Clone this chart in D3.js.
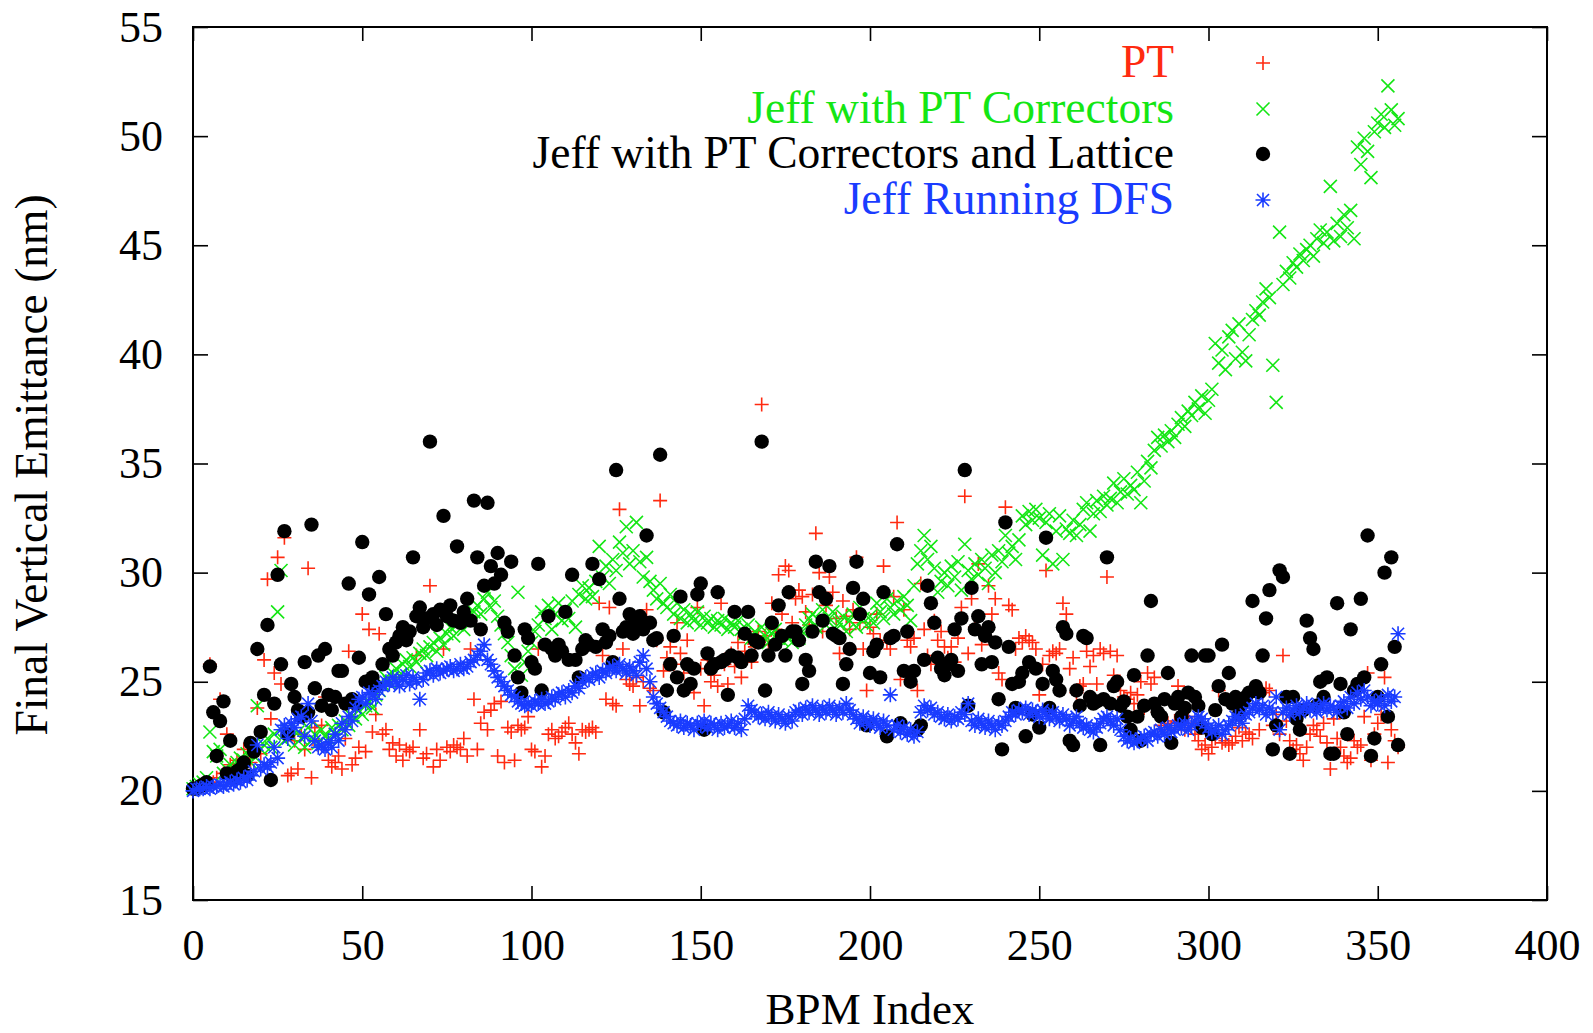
<!DOCTYPE html>
<html>
<head>
<meta charset="utf-8">
<script src="https://cdn.jsdelivr.net/npm/d3@7"></script>
<style>
  body { margin: 0; background: #fff; }
  text { font-family: "Liberation Serif", "Times New Roman", serif; }
</style>
</head>
<body>
<div id="chart"></div>
<script>
// Data, one value per BPM index (0..356)
// =================================
var ptValues = [
  20.1, 20.1, 20.2, 20.2, 20.3, 25.8, 20.4, 20.6, 24.2, 20.8,
  22.6, 21.2, 21.0, 21.4, 20.9, 21.9, 21.5, 21.3, 22.0, 23.8,
  21.7, 26.0, 29.7, 23.3, 25.4, 30.7, 24.9, 31.6, 20.7, 20.8,
  22.3, 21.0, 22.6, 21.9, 30.2, 20.6, 22.9, 22.1, 23.0, 24.3,
  21.4, 21.1, 21.3, 21.6, 21.0, 22.4, 26.4, 21.2, 21.5, 22.0,
  28.1, 21.8, 27.4, 22.7, 23.5, 27.2, 22.6, 22.8, 21.9, 22.2,
  21.6, 22.1, 21.4, 21.9, 21.8, 22.0, 26.2, 22.8, 21.5, 21.7,
  29.4, 21.1, 21.9, 21.4, 26.5, 22.0, 21.8, 22.1, 22.0, 21.9,
  22.4, 21.6, 26.5, 24.2, 21.9, 23.1, 23.6, 22.8, 23.7, 24.0,
  21.6, 24.1, 21.3, 22.9, 22.7, 21.4, 23.0, 22.8, 22.9, 23.4,
  21.9, 21.8, 26.5, 21.1, 21.6, 22.6, 22.8, 22.4, 22.5, 22.7,
  22.9, 23.1, 22.6, 22.2, 21.7, 22.8, 22.7, 22.8, 22.9, 22.7,
  28.6, 26.2, 24.2, 28.4, 24.0, 23.9, 32.9, 26.5, 25.1, 24.9,
  24.8, 25.2, 23.9, 25.0, 28.3, 24.7, 24.6, 26.9, 33.3, 25.5,
  26.1, 26.6, 25.8, 27.7, 26.3, 25.4, 26.9, 25.7, 24.5, 28.4,
  25.6, 23.9, 26.0, 25.0, 25.3, 24.8, 28.6, 25.8, 24.9, 26.3,
  25.7, 26.8, 25.2, 26.4, 27.0, 25.9, 26.6, 27.3, 37.7, 27.1,
  26.7, 28.6, 27.4, 29.9, 28.1, 30.3, 30.1, 27.7, 28.8, 29.2,
  28.9, 28.2, 27.6, 29.0, 31.8, 30.0, 27.3, 28.5, 29.8, 29.1,
  27.9, 26.3, 28.7, 28.0, 27.4, 28.3, 30.7, 27.7, 26.5, 24.6,
  27.5, 27.2, 28.1, 26.9, 30.3, 26.8, 26.5, 28.9, 32.3, 25.1,
  28.3, 26.9, 26.6, 27.0, 24.6, 29.5, 27.4, 26.2, 25.8, 27.8,
  26.9, 27.3, 26.6, 26.1, 26.6, 25.9, 27.0, 28.4, 33.5, 26.3,
  28.8, 27.5, 30.4, 26.7, 27.1, 29.4, 28.1, 28.8, 25.4, 25.1,
  33.0, 28.5, 28.3, 26.5, 27.0, 26.8, 27.1, 26.9, 26.8, 26.5,
  24.4, 25.8, 30.1, 26.2, 26.4, 26.3, 26.5, 28.6, 28.1, 25.6,
  26.1, 24.5, 24.8, 24.9, 26.4, 25.7, 26.2, 24.9, 26.5, 26.3,
  29.8, 26.4, 25.3, 26.2, 24.6, 24.3, 24.2, 24.5, 24.0, 24.4,
  25.0, 23.8, 25.4, 24.9, 25.2, 23.6, 23.0, 22.8, 23.1, 22.9,
  23.2, 24.8, 23.0, 22.8, 23.4, 23.1, 22.6, 22.3, 21.9, 22.1,
  21.7, 22.0, 22.4, 24.6, 22.2, 22.3, 22.1, 22.2, 22.5, 22.9,
  22.3, 22.7, 22.6, 22.4, 24.6, 22.8, 24.5, 24.7, 24.6, 23.0,
  23.5, 22.6, 26.2, 23.2, 22.3, 21.9, 22.1, 21.7, 21.4, 22.0,
  22.6, 23.0, 22.8, 22.5, 23.1, 22.2, 21.0, 23.3, 22.4, 22.0,
  21.6, 21.3, 21.5, 22.3, 22.0, 22.1, 23.4, 25.4, 21.4, 22.6,
  23.1, 23.5, 25.2, 21.3, 22.8, 22.3, 22.0
];

var correctorValues = [
  20.1, 20.2, 20.3, 20.4, 20.6, 22.7, 21.8, 21.6, 21.9, 20.8,
  21.0, 21.2, 20.9, 21.3, 21.5, 21.4, 21.7, 21.3, 21.6, 23.9,
  21.9, 22.1, 22.4, 22.0, 22.6, 28.2, 30.1, 22.3, 22.8, 22.5,
  22.1, 22.7, 22.4, 22.0, 22.9, 22.3, 22.6, 22.2, 22.8, 22.5,
  22.4, 22.9, 22.6, 23.0, 22.8, 23.2, 23.0, 23.4, 23.3, 23.7,
  23.5, 23.9, 24.1, 23.8, 24.4, 24.6, 24.9, 25.2, 25.0, 25.4,
  25.6, 25.3, 25.8, 26.0, 25.7, 26.1, 25.9, 26.3, 26.5, 26.2,
  26.6, 26.8, 26.4, 27.0, 26.7, 27.2, 27.5, 27.1, 27.6, 27.8,
  27.4, 28.0, 27.7, 28.2, 28.5, 28.1, 28.8, 29.1, 28.4, 28.7,
  28.0, 27.6, 27.2, 26.8, 26.2, 25.6, 29.1, 25.3, 25.9, 26.4,
  26.8, 27.3, 27.6, 28.2, 27.9, 28.5, 27.4, 28.1, 28.6, 27.8,
  28.3, 27.9, 28.7, 27.5, 29.0, 29.4, 28.8, 29.3, 28.9, 29.6,
  31.2, 29.8, 30.3, 29.5, 30.6, 30.1, 31.4, 30.9, 32.1, 30.4,
  31.0, 32.3, 30.5, 29.8, 30.7, 29.6, 29.2, 28.8, 29.5, 28.6,
  28.4, 29.0, 28.1, 28.6, 27.9, 28.3, 27.7, 28.1, 27.8, 28.2,
  27.6, 28.0, 27.7, 27.9, 27.5, 27.8, 27.6, 27.9, 27.4, 27.7,
  27.5, 27.8, 27.4, 27.2, 27.6, 27.0, 27.3, 26.9, 27.5, 27.1,
  26.8, 27.2, 27.4, 27.0, 26.9, 27.1, 27.0, 26.8, 27.2, 27.0,
  27.3, 27.6, 27.9, 28.1, 27.5, 27.8, 28.3, 27.6, 27.9, 28.2,
  27.4, 27.7, 28.0, 27.3, 27.8, 28.1, 27.5, 28.4, 27.9, 27.6,
  28.0, 27.7, 28.6, 28.2, 27.9, 28.8, 28.4, 28.1, 28.7, 28.3,
  28.9, 28.5, 27.8, 29.4, 30.4, 31.0, 31.7, 30.6, 31.2, 30.2,
  29.1, 29.6, 30.0, 29.4, 30.3, 29.8, 30.5, 29.2, 31.3, 30.1,
  29.7, 30.4, 29.9, 30.6, 30.2, 29.5, 30.8, 30.0, 31.0, 30.5,
  31.7, 30.9, 31.2, 30.6, 31.5, 32.6, 32.2, 32.8, 32.4, 32.9,
  32.5, 30.8, 32.3, 32.7, 30.4, 31.9, 32.6, 30.6, 32.0, 31.8,
  32.4, 31.7, 32.2, 32.9, 33.2, 31.9, 32.7, 33.3, 32.8, 33.5,
  33.1, 33.4, 34.1, 33.2, 33.7, 34.3, 33.6, 34.0, 33.8, 34.6,
  33.2, 34.2, 35.1, 34.8, 35.6, 36.2, 35.8, 36.3, 36.0, 36.5,
  36.2, 36.8, 37.1, 36.7, 37.4, 37.2, 37.8, 37.5, 38.1, 37.3,
  37.9, 38.4, 40.5, 39.6, 40.2, 39.3, 40.8, 41.1, 39.8, 41.4,
  40.1, 39.7, 40.9, 41.6, 42.0, 41.8, 42.4, 43.0, 42.6, 39.5,
  37.8, 45.6, 43.2, 43.8, 43.5, 44.2, 44.0, 44.6, 44.3, 44.8,
  45.0, 44.5, 45.3, 45.7, 45.1, 45.6, 47.7, 45.2, 46.0, 45.4,
  46.4, 45.8, 46.6, 45.3, 49.5, 48.7, 49.9, 49.3, 48.1, 50.2,
  50.6, 51.0, 50.4, 52.3, 51.2, 50.5, 50.8
];

var latticeValues = [
  20.1, 20.1, 20.2, 20.3, 20.4, 25.7, 23.6, 21.6, 23.2, 24.1,
  20.8, 22.3, 20.6, 20.9, 21.0, 21.3, 20.7, 22.2, 21.8, 26.5,
  22.7, 24.4, 27.6, 20.5, 24.0, 29.9, 25.8, 31.9, 22.6, 24.9,
  24.3, 23.7, 23.4, 25.9, 23.6, 32.2, 24.7, 26.2, 23.9, 26.5,
  24.4, 23.7, 24.3, 25.5, 25.5, 24.0, 29.5, 24.2, 24.0, 26.1,
  31.4, 25.0, 29.0, 25.2, 24.8, 29.8, 25.8, 28.1, 26.5, 26.2,
  26.8, 27.1, 27.5, 26.9, 27.3, 30.7, 28.0, 28.4, 27.5, 27.9,
  36.0, 28.1, 27.6, 28.3, 32.6, 28.0, 28.5, 27.8, 31.2, 27.7,
  28.2, 28.8, 27.8, 33.3, 30.7, 27.4, 29.4, 33.2, 30.3, 29.5,
  30.9, 29.9, 27.7, 27.3, 30.5, 26.2, 25.2, 24.5, 27.4, 27.0,
  25.9, 25.6, 30.4, 24.6, 26.7, 28.0, 26.5, 26.2, 26.7, 26.4,
  28.2, 26.0, 29.9, 26.0, 25.2, 26.5, 26.9, 26.7, 30.4, 26.6,
  29.7, 27.4, 26.8, 27.1, 25.9, 34.7, 28.8, 27.3, 27.5, 28.1,
  27.2, 27.7, 28.0, 27.4, 31.7, 27.7, 26.9, 27.0, 35.4, 23.6,
  24.6, 25.8, 27.1, 25.2, 28.9, 24.6, 25.8, 24.9, 25.6, 29.0,
  29.5, 22.8, 26.3, 25.6, 25.8, 29.1, 25.9, 26.0, 24.4, 26.2,
  28.2, 26.1, 25.9, 27.2, 28.2, 26.2, 26.9, 26.8, 36.0, 24.6,
  26.2, 27.7, 26.7, 28.5, 27.1, 26.2, 29.1, 27.3, 27.3, 26.9,
  24.9, 26.0, 25.5, 27.3, 30.5, 29.1, 27.8, 28.8, 30.3, 27.2,
  27.1, 27.0, 24.9, 25.8, 26.5, 29.3, 30.5, 28.1, 28.8, 23.0,
  25.4, 26.4, 26.7, 25.2, 29.1, 22.5, 27.0, 27.1, 31.3, 23.1,
  25.5, 27.3, 25.0, 25.5, 22.8, 23.0, 26.0, 29.4, 28.6, 27.7,
  26.1, 25.6, 25.3, 25.8, 26.0, 27.4, 25.5, 27.9, 34.7, 23.9,
  29.3, 27.4, 28.0, 25.8, 27.1, 27.5, 25.9, 26.8, 24.2, 21.9,
  32.3, 26.6, 24.9, 23.8, 25.0, 25.4, 22.5, 25.9, 23.5, 25.6,
  22.9, 24.9, 31.6, 23.8, 25.5, 25.1, 24.6, 27.5, 27.2, 22.3,
  22.1, 24.6, 23.9, 27.1, 27.0, 24.3, 24.0, 24.1, 22.1, 24.2,
  30.7, 24.0, 24.8, 25.0, 23.9, 24.1, 23.4, 22.8, 25.3, 23.4,
  22.3, 23.9, 26.2, 28.7, 24.0, 23.6, 23.4, 24.2, 25.4, 22.2,
  24.0, 24.3, 23.4, 23.8, 24.5, 26.2, 24.3, 23.9, 22.9, 26.2,
  26.2, 22.6, 23.7, 24.8, 26.7, 24.2, 25.4, 24.0, 24.3, 23.5,
  24.0, 24.3, 24.5, 28.7, 24.8, 24.5, 26.2, 27.9, 29.2, 21.9,
  23.0, 30.1, 29.8, 24.3, 21.7, 24.3, 23.3, 22.8, 23.7, 27.8,
  27.0, 26.5, 23.9, 25.0, 24.3, 25.2, 21.7, 21.7, 28.6, 24.9,
  23.6, 22.6, 27.4, 24.6, 24.9, 28.8, 25.2, 31.7, 21.6, 22.4,
  24.3, 25.8, 30.0, 23.4, 30.7, 26.6, 22.1
];

var dfsValues = [
  20.0, 20.1, 20.1, 20.1, 20.2, 20.1, 20.2, 20.2, 20.3, 20.2,
  20.3, 20.4, 20.3, 20.5, 20.4, 20.6, 20.5, 20.7, 20.9, 22.1,
  21.0, 21.2, 21.1, 21.3, 22.0, 21.5, 22.8, 23.0, 22.4, 23.1,
  22.9, 23.3, 23.4, 22.5, 24.0, 23.2, 22.3, 22.0, 22.1, 21.9,
  22.2, 22.0, 22.6, 22.3, 23.1, 22.8, 23.4, 23.2, 23.8, 24.2,
  24.3, 24.0, 24.5, 24.4, 24.2, 24.6, 24.8, 25.0, 24.9, 25.2,
  25.0, 24.8, 25.1, 25.3, 24.9, 25.2, 25.0, 24.2, 25.1, 25.4,
  25.5, 25.3, 25.6, 25.4, 25.5, 25.6, 25.7, 25.5, 25.6, 25.8,
  25.6, 25.7, 25.9, 26.0, 26.2, 26.4, 26.7, 26.0, 25.8, 25.5,
  25.2, 25.0, 24.8, 24.6, 24.4, 24.3, 24.1, 24.0, 23.9, 24.0,
  23.9, 24.1, 24.0, 24.2, 24.0, 24.1, 24.3, 24.2, 24.4, 24.5,
  24.3, 24.6, 24.5, 24.8, 24.7, 25.0, 25.2, 25.1, 25.3, 25.4,
  25.2, 25.5, 25.4, 25.6, 25.7, 25.5, 25.8, 25.6, 25.4, 25.7,
  25.5, 25.3, 25.9, 26.2, 25.6, 25.0, 24.3, 24.0, 23.8, 23.6,
  23.4, 23.2, 23.1, 23.0, 23.2, 22.9, 23.1, 23.0, 22.8, 23.1,
  23.0, 23.2, 22.9, 23.1, 23.0, 22.8, 23.1, 22.9, 23.0, 23.2,
  22.9, 23.1, 22.8, 23.3, 23.9, 23.7, 23.6, 23.4, 23.5, 23.3,
  23.6, 23.4, 23.2, 23.5, 23.3, 23.1, 23.4, 23.2, 23.6, 23.7,
  23.5, 23.8, 23.6, 23.9, 23.7, 23.5, 23.8, 23.6, 23.9, 23.7,
  23.5, 23.8, 23.6, 24.0, 23.7, 23.5, 23.3, 23.1, 23.4, 23.2,
  23.0, 23.3, 23.1, 22.9, 23.2, 23.0, 24.4, 22.8, 23.0, 22.7,
  22.9, 22.6, 22.8, 22.5, 22.7, 23.6, 23.9, 23.7, 23.8, 23.5,
  23.6, 23.4, 23.3, 23.5, 23.2, 23.4, 23.3, 23.6, 23.5, 24.0,
  23.2, 23.0, 23.3, 23.1, 22.9, 23.2, 23.0, 22.8, 23.1, 23.0,
  23.2, 23.4, 23.6, 23.5, 23.7, 23.6, 23.8, 23.5, 23.7, 23.6,
  23.4, 23.7, 23.5, 23.3, 23.6, 23.4, 23.2, 23.5, 23.3, 23.0,
  23.2, 23.4, 23.1, 22.9, 23.0, 22.8, 22.7, 22.9, 23.1, 23.3,
  23.4, 23.2, 23.0, 23.3, 22.8, 22.5, 22.3, 22.4, 22.2, 22.3,
  22.4, 22.5, 22.3, 22.6, 22.7, 22.5, 22.8, 22.6, 22.9, 22.7,
  22.8, 23.0, 22.9, 23.1, 22.8, 23.0, 23.2, 23.4, 23.3, 23.1,
  22.9, 22.7, 22.8, 23.0, 22.6, 22.8, 23.0, 23.2, 23.4, 23.3,
  23.1, 23.5, 23.6, 23.8, 24.0, 23.7, 23.9, 23.5, 23.8, 23.6,
  24.3, 22.8, 23.6, 23.8, 23.5, 23.7, 23.9, 23.6, 23.8, 24.0,
  23.7, 23.9, 23.6, 23.8, 24.0, 23.7, 23.9, 23.8, 23.6, 23.9,
  24.1, 23.8, 24.3, 24.0, 24.5, 24.2, 24.6, 24.3, 23.9, 24.1,
  24.0, 24.2, 23.9, 24.4, 24.1, 24.3, 27.2
];

var seriesNames = ["PT", "Jeff with PT Correctors", "Jeff with PT Correctors and Lattice", "Jeff Running DFS"];
var xTicks = [0, 50, 100, 150, 200, 250, 300, 350, 400];
var yTicks = [15, 20, 25, 30, 35, 40, 45, 50, 55];

// Step 1: Set up the chart
//= ================================
var svgWidth = 1593;
var svgHeight = 1033;

var margin = {
  top: 27,
  bottom: 133,
  right: 46,
  left: 193
};

var width = svgWidth - margin.left - margin.right;
var height = svgHeight - margin.top - margin.bottom;

var svg = d3.select("#chart")
  .append("svg")
  .attr("width", svgWidth)
  .attr("height", svgHeight);

var chartGroup = svg.append("g")
  .attr("transform", `translate(${margin.left}, ${margin.top})`);

// Step 2: Scales
//= ================================
var xScale = d3.scaleLinear().domain([0, 400]).range([0, width]);
var yScale = d3.scaleLinear().domain([15, 55]).range([height, 0]);

// marker paths, gnuplot style
var plusPath = "M-7,0H7M0,-7V7";
var timesPath = "M-6.5,-6.5L6.5,6.5M-6.5,6.5L6.5,-6.5";
var starPath = "M-7.5,0H7.5M0,-7.5V7.5M-6,-6L6,6M-6,6L6,-6";

var series = [
  {name: seriesNames[0], values: ptValues, color: "#ff2a10", kind: "plus"},
  {name: seriesNames[1], values: correctorValues, color: "#14e614", kind: "times"},
  {name: seriesNames[2], values: latticeValues, color: "#000000", kind: "dot"},
  {name: seriesNames[3], values: dfsValues, color: "#1a3cff", kind: "star"}
];

function drawMarker(sel, s) {
  if (s.kind === "dot") {
    sel.append("circle")
      .attr("r", 7.2)
      .attr("fill", s.color);
  } else {
    sel.append("path")
      .attr("d", s.kind === "plus" ? plusPath : s.kind === "times" ? timesPath : starPath)
      .attr("fill", "none")
      .attr("stroke", s.color)
      .attr("stroke-width", 1.6);
  }
}

// Step 3: Axes, ticks pointing inward and mirrored
//= ================================
var tickFont = "44px";

var bottomAxis = d3.axisBottom(xScale).tickValues(xTicks).tickSize(-14).tickPadding(29);
var topAxis = d3.axisTop(xScale).tickValues(xTicks).tickSize(-14).tickFormat("");
var leftAxis = d3.axisLeft(yScale).tickValues(yTicks).tickSize(-15).tickPadding(30);
var rightAxis = d3.axisRight(yScale).tickValues(yTicks).tickSize(-15).tickFormat("");

chartGroup.append("g")
  .attr("transform", `translate(0, ${height})`)
  .call(bottomAxis);
chartGroup.append("g").call(topAxis);
chartGroup.append("g").call(leftAxis);
chartGroup.append("g")
  .attr("transform", `translate(${width}, 0)`)
  .call(rightAxis);

chartGroup.selectAll(".domain").remove();
chartGroup.selectAll(".tick line")
  .attr("stroke", "#000")
  .attr("stroke-width", 1.6);
chartGroup.selectAll(".tick text")
  .attr("fill", "#000")
  .style("font-family", "'Liberation Serif', serif")
  .style("font-size", tickFont);

// border box
chartGroup.append("rect")
  .attr("width", width)
  .attr("height", height)
  .attr("fill", "none")
  .attr("stroke", "#000")
  .attr("stroke-width", 2);

// Step 4: Points
//= ================================
series.forEach(function(s) {
  var g = chartGroup.append("g");
  var pts = g.selectAll("g")
    .data(s.values)
    .enter()
    .append("g")
    .attr("transform", (d, i) => `translate(${xScale(i)}, ${yScale(d)})`);
  drawMarker(pts, s);
});

// Step 5: Legend (top right, text right aligned, marker after)
//= ================================
var legendRows = [63, 109, 154, 200];
series.forEach(function(s, i) {
  svg.append("text")
    .attr("x", 1174)
    .attr("y", legendRows[i] + 14)
    .attr("text-anchor", "end")
    .attr("fill", s.color)
    .style("font-size", "45.5px")
    .text(s.name);
  var m = svg.append("g")
    .attr("transform", `translate(1263, ${legendRows[i]})`);
  drawMarker(m, s);
});

// Step 6: Axis titles
//= ================================
svg.append("text")
  .attr("transform", "translate(47, 465) rotate(-90)")
  .attr("text-anchor", "middle")
  .style("font-size", "45.5px")
  .text("Final Vertical Emittance (nm)");

svg.append("text")
  .attr("x", 870)
  .attr("y", 1024)
  .attr("text-anchor", "middle")
  .style("font-size", "45px")
  .text("BPM Index");
</script>
</body>
</html>
